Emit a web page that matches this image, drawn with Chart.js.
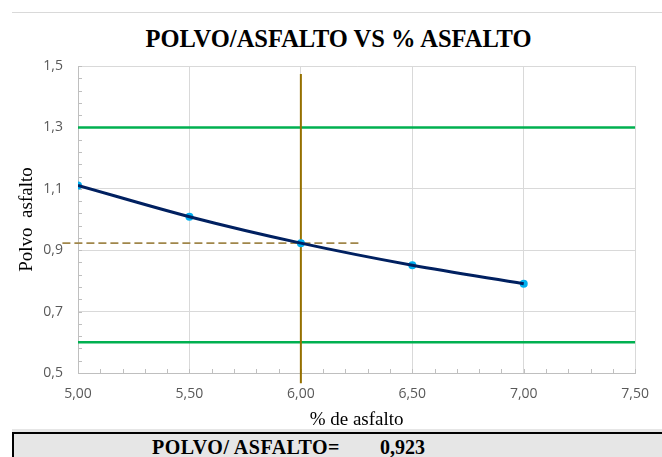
<!DOCTYPE html>
<html><head><meta charset="utf-8">
<script src="https://cdn.jsdelivr.net/npm/chart.js@4/dist/chart.umd.min.js"></script>
<style>
html,body{margin:0;padding:0;background:#fff;}
#wrap{position:relative;width:662px;height:457px;overflow:hidden;background:#fff;}
#c{position:absolute;left:0;top:0;}
#topline{position:absolute;left:12px;top:12px;width:650px;height:1px;background:#d9d9d9;}
#title{position:absolute;left:0;top:27px;width:677px;text-align:center;font-family:'Liberation Serif','Times New Roman',serif;font-weight:bold;font-size:24.5px;line-height:1;color:#000;white-space:nowrap;}
#band{position:absolute;left:12px;top:429px;width:650px;height:3px;background:#e6e6e6;}
#box{position:absolute;left:12px;top:432px;width:660px;height:30px;background:#e6e6e6;border-top:2px solid #000;border-left:2px solid #000;box-sizing:border-box;}
.bt{position:absolute;top:437px;font-family:'Liberation Serif','Times New Roman',serif;font-weight:bold;font-size:20px;line-height:1;color:#000;white-space:pre;}
</style></head><body>
<div id="wrap">
 <div id="topline"></div>
 <div id="title">POLVO/ASFALTO VS % ASFALTO</div>
 <canvas id="c" width="662" height="457"></canvas>
 <div id="band"></div>
 <div id="box"></div>
 <span class="bt" id="lbl" style="left:152px;letter-spacing:0.5px"></span>
 <span class="bt" id="val" style="left:380px"></span>
</div>
<script>
// ---- data ----
const asphaltPct = [5.0, 5.5, 6.0, 6.5, 7.0];
const dustAsphalt = [1.111, 1.009, 0.923, 0.851, 0.791];
const upperLimit = [1.3, 1.3];
const lowerLimit = [0.6, 0.6];
const limitX = [5.0, 7.5];
const optimumX = [6.0, 6.0];
const optimumY = [1.474, 0.467];
const resultX = [4.93, 6.27];
const resultY = [0.923, 0.923];
const xTicks = [5.0, 5.5, 6.0, 6.5, 7.0, 7.5];
const yTicks = [0.5, 0.7, 0.9, 1.1, 1.3, 1.5];
const resultLabel = 'POLVO/ ASFALTO=';
const resultValue = 0.923;

document.getElementById('lbl').textContent = resultLabel;
document.getElementById('val').textContent = resultValue.toFixed(3).replace('.', ',');

const zip = (xs, ys) => xs.map((x, i) => ({x: x, y: ys[i]}));

const minorTicks = {
  id: 'minorTicks',
  beforeDatasetsDraw(chart) {
    const ctx = chart.ctx, xs = chart.scales.x, ys = chart.scales.y;
    ctx.save();
    ctx.strokeStyle = '#bfbfbf';
    ctx.lineWidth = 1;
    ctx.beginPath();
    for (let k = 0; k <= 25; k++) {
      const v = ys.min + k * 0.04;
      const py = Math.round(ys.getPixelForValue(v)) + 0.5;
      ctx.moveTo(xs.left, py); ctx.lineTo(xs.left + 4, py);
    }
    for (let k = 0; k <= 25; k++) {
      const v = xs.min + k * 0.1;
      const px = Math.round(xs.getPixelForValue(v)) + 0.5;
      ctx.moveTo(px, ys.bottom); ctx.lineTo(px, ys.bottom - 4);
    }
    ctx.stroke();
    ctx.restore();
  }
};

const tickFont = {family: "'Open Sans','Liberation Sans',sans-serif", size: 14};
const titleFont = {family: "'Liberation Serif','Times New Roman',serif", size: 19};

new Chart(document.getElementById('c'), {
  type: 'scatter',
  data: {
    datasets: [
      {data: zip(limitX, upperLimit), showLine: true, borderColor: '#00b050', borderWidth: 2.5, pointRadius: 0, order: 5},
      {data: zip(limitX, lowerLimit), showLine: true, borderColor: '#00b050', borderWidth: 2.5, pointRadius: 0, order: 5},
      {data: zip(optimumX, optimumY), showLine: true, borderColor: '#957000', borderWidth: 2, pointRadius: 0, clip: false, order: 4},
      {data: zip(resultX, resultY), showLine: true, borderColor: '#a0864a', borderWidth: 1.8, borderDash: [8, 4], pointRadius: 0, clip: false, order: 4},
      {data: zip(asphaltPct, dustAsphalt), showLine: false, pointRadius: 4, pointBackgroundColor: '#00b0f0', pointBorderWidth: 0, order: 2},
      {data: zip(asphaltPct, dustAsphalt), showLine: true, borderColor: '#002060', borderWidth: 3, pointRadius: 0, tension: 0.4, cubicInterpolationMode: 'monotone', order: 1}
    ]
  },
  options: {
    responsive: false,
    animation: false,
    devicePixelRatio: 1,
    layout: {padding: {left: 0, right: 25, top: 66, bottom: 26}},
    plugins: {legend: {display: false}, tooltip: {enabled: false}, title: {display: false}},
    scales: {
      x: {
        type: 'linear', min: xTicks[0], max: xTicks[xTicks.length - 1],
        afterBuildTicks: s => { s.ticks = xTicks.map(v => ({value: v})); },
        afterFit: s => { s.height = 58; },
        ticks: {padding: 13, color: '#595959', font: tickFont, callback: v => Number(v).toFixed(2).replace('.', ',')},
        grid: {color: '#d9d9d9', drawTicks: false},
        border: {color: '#bfbfbf'},
        title: {display: true, text: '% de asfalto', color: '#000', font: titleFont, padding: {top: 0, bottom: 0}}
      },
      y: {
        type: 'linear', min: yTicks[0], max: yTicks[yTicks.length - 1],
        afterBuildTicks: s => { s.ticks = yTicks.map(v => ({value: v})); },
        afterFit: s => { s.width = 78; },
        ticks: {padding: 15, color: '#595959', font: tickFont, callback: v => Number(v).toFixed(1).replace('.', ',')},
        grid: {color: '#d9d9d9', drawTicks: false},
        border: {color: '#bfbfbf'},
        title: {display: true, text: 'Polvo  asfalto', color: '#000', font: titleFont, padding: {top: 16, bottom: 0}}
      }
    }
  },
  plugins: [minorTicks]
});
</script>
</body></html>
